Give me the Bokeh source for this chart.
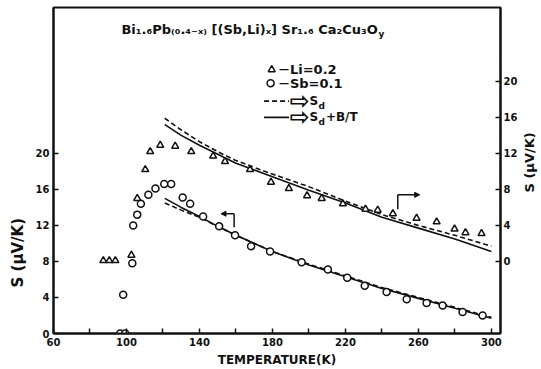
import math
from bokeh.plotting import figure
from bokeh.layouts import row
from bokeh.models import Range1d, LinearAxis, FixedTicker, Label, Arrow, NormalHead, Title
from bokeh.embed import file_html
from bokeh.resources import INLINE

# ---- measured thermopower ----
# Li = 0.2 sample, read against the right-hand scale
li_T = [87.3, 90.6, 93.9, 102.7, 105.9, 110.3, 113.0, 118.5, 126.7, 135.5, 147.5,
        154.0, 167.7, 179.2, 189.0, 199.0, 207.0, 218.6, 231.0, 237.7, 246.0,
        259.0, 270.0, 279.8, 285.8, 294.6]
li_S = [0.1, 0.1, 0.1, 0.7, 7.0, 10.2, 12.2, 12.9, 12.8, 12.2, 11.7,
        11.1, 10.2, 8.8, 8.1, 7.3, 7.0, 6.4, 5.8, 5.7, 5.3,
        4.8, 4.4, 3.6, 3.2, 3.1]

# Sb = 0.1 sample, read against the left-hand scale
sb_T = [96.5, 99.3, 98.2, 103.2, 103.7, 105.9, 107.9, 112.0, 115.9, 120.7, 124.5,
        130.8, 134.9, 142.0, 150.8, 159.5, 168.3, 178.7, 196.0, 210.4, 221.0,
        230.6, 242.6, 253.6, 264.5, 273.3, 284.2, 295.2]
sb_S = [0.0, 0.0, 4.3, 7.8, 12.0, 13.2, 14.4, 15.4, 16.1, 16.6, 16.6,
        15.1, 14.4, 13.0, 11.9, 10.9, 9.7, 9.1, 7.9, 7.1, 6.2,
        5.3, 4.6, 3.8, 3.4, 3.1, 2.4, 2.0]

# ---- model curves: S_d (dashed) and S_d + B/T (solid) ----
curve_T = [121, 130, 140, 150, 160, 180, 200, 220, 240, 260, 280, 300]
sb_fit_d = [14.5, 13.7, 12.9, 11.9, 10.9, 9.1, 7.7, 6.4, 5.1, 4.0, 2.9, 1.8]
sb_fit_dB = [15.0, 14.0, 13.0, 11.9, 10.9, 9.1, 7.6, 6.3, 5.0, 3.9, 2.8, 1.7]
li_fit_d = [15.9, 14.6, 13.3, 12.2, 11.2, 9.7, 8.3, 6.7, 5.2, 4.0, 2.9, 1.7]
li_fit_dB = [15.2, 14.0, 12.9, 11.9, 10.9, 9.4, 7.9, 6.5, 4.9, 3.7, 2.5, 1.1]

# ---- axes ----
x_ticks = [60, 100, 140, 180, 220, 260, 300]
x_minor = [80, 120, 160, 200, 240, 280]
y_ticks = [0, 4, 8, 12, 16, 20]
RIGHT_OFFSET = 8  # right-hand zero sits at 8 on the left scale
Y_LABEL = "S (μV/K)"

FONT = "DejaVu Sans"
INK = "#111111"

p = figure(width=520, height=369, output_backend="svg", toolbar_location=None,
           x_range=Range1d(60, 305), y_range=Range1d(0, 36.2),
           min_border_left=53, min_border_right=19, min_border_top=7, min_border_bottom=36,
           background_fill_color="white", border_fill_color="white")
p.extra_y_ranges = {"right": Range1d(0 - RIGHT_OFFSET, 36.2 - RIGHT_OFFSET)}
p.grid.visible = False
p.outline_line_color = INK
p.outline_line_width = 2

def style_axis(ax, ticker):
    ax.ticker = ticker
    ax.axis_line_color = INK
    ax.axis_line_width = 2
    ax.major_tick_line_color = INK
    ax.major_tick_line_width = 1.5
    ax.major_tick_in = 5
    ax.major_tick_out = 0
    ax.minor_tick_line_color = INK
    ax.minor_tick_line_width = 1.5
    ax.minor_tick_in = 5
    ax.minor_tick_out = 0
    ax.major_label_text_font = FONT
    ax.major_label_text_font_style = "bold"
    ax.major_label_text_font_size = "10px"
    ax.major_label_text_color = INK
    ax.major_label_standoff = 4
    ax.axis_label_text_font = FONT
    ax.axis_label_text_font_style = "bold"
    ax.axis_label_text_color = INK

style_axis(p.xaxis[0], FixedTicker(ticks=x_ticks, minor_ticks=x_minor))
style_axis(p.yaxis[0], FixedTicker(ticks=y_ticks, minor_ticks=[]))
right_axis = LinearAxis(y_range_name="right")
style_axis(right_axis, FixedTicker(ticks=y_ticks, minor_ticks=[]))
right_axis.major_label_standoff = 3
p.add_layout(right_axis, "right")

# axis titles
p.xaxis[0].axis_label = "TEMPERATURE(K)"
p.xaxis[0].axis_label_text_font_size = "12px"
p.xaxis[0].axis_label_standoff = 4

p.add_layout(Title(text=Y_LABEL, align="left", offset=46, standoff=12,
                   text_font=FONT, text_font_style="bold", text_font_size="15px",
                   text_color=INK), "left")

# ---- curves ----
p.line(curve_T, sb_fit_d, line_color=INK, line_width=1.6, line_dash="5 3")
p.line(curve_T, sb_fit_dB, line_color=INK, line_width=1.6)
p.line(curve_T, li_fit_d, line_color=INK, line_width=1.6, line_dash="5 3", y_range_name="right")
p.line(curve_T, li_fit_dB, line_color=INK, line_width=1.6, y_range_name="right")

# ---- data points ----
p.scatter(sb_T, sb_S, marker="circle", size=7, fill_color="white", line_color=INK, line_width=1.5)
p.scatter(li_T, li_S, marker="triangle", size=7, fill_color="white", line_color=INK,
          line_width=1.5, y_range_name="right")

# ---- scale pointers ----
head = dict(size=5, fill_color=INK, line_color=INK)
p.add_layout(Arrow(x_start=159, y_start=13.3, x_end=151.8, y_end=13.3,
                   line_color=INK, line_width=1.5, end=NormalHead(**head)))
p.segment(x0=[159], y0=[13.3], x1=[159], y1=[11.8], line_color=INK, line_width=1.5)
p.add_layout(Arrow(x_start=248.7, y_start=7.4, x_end=260.7, y_end=7.4, y_range_name="right",
                   line_color=INK, line_width=1.5, end=NormalHead(**head)))
p.segment(x0=[248.7], y0=[7.4], x1=[248.7], y1=[5.8], line_color=INK, line_width=1.5,
          y_range_name="right")

def txt(fig, x, y, s, size="10px", align="left", baseline="middle", angle=0.0):
    fig.add_layout(Label(x=x, y=y, text=s, text_font=FONT, text_font_style="bold",
                         text_font_size=size, text_color=INK, text_align=align,
                         text_baseline=baseline, angle=angle))

# ---- legend block ----
p.scatter([179.6], [29.3], marker="triangle", size=7, fill_color="white", line_color=INK, line_width=1.5)
txt(p, 183.6, 29.3, "—", size="10px")
txt(p, 189.6, 29.3, "Li=0.2", size="13px")
p.scatter([179.0], [27.8], marker="circle", size=7, fill_color="white", line_color=INK, line_width=1.5)
txt(p, 183.6, 27.8, "—", size="10px")
txt(p, 189.6, 27.8, "Sb=0.1", size="13px")
p.line([175.4, 189.1], [25.8, 25.8], line_color=INK, line_width=1.6, line_dash="5 3")
txt(p, 189.4, 25.8, "⇨", size="24px")
txt(p, 205.0, 25.8, "S", size="12px", align="right")
txt(p, 205.3, 25.3, "d", size="9px")
p.line([175.4, 189.1], [24.0, 24.0], line_color=INK, line_width=1.6)
txt(p, 189.4, 24.0, "⇨", size="24px")
txt(p, 205.0, 24.0, "S", size="12px", align="right")
txt(p, 205.3, 23.5, "d", size="9px")
txt(p, 209.3, 24.0, "+B/T", size="12px")

# ---- heading inside the panel ----
txt(p, 237.7, 33.8, "Bi₁.₆Pb₍₀.₄₋ₓ₎ [(Sb,Li)ₓ] Sr₁.₆ Ca₂Cu₃O", size="13px", align="right",
    baseline="alphabetic")
txt(p, 238.2, 33.3, "y", size="9px", baseline="alphabetic")

# ---- narrow strip on the right carrying the right-hand scale title ----
strip = figure(width=21, height=369, output_backend="svg", toolbar_location=None,
               x_range=Range1d(0, 1), y_range=Range1d(0, 1),
               min_border_left=0, min_border_right=0, min_border_top=0, min_border_bottom=0,
               background_fill_color="white", border_fill_color="white")
strip.axis.visible = False
strip.grid.visible = False
strip.outline_line_color = None
txt(strip, 0.45, 0.525, Y_LABEL, size="13px", align="center", angle=math.pi / 2)

layout = row(p, strip, spacing=0)
open("out.html", "w").write(file_html(layout, INLINE))
